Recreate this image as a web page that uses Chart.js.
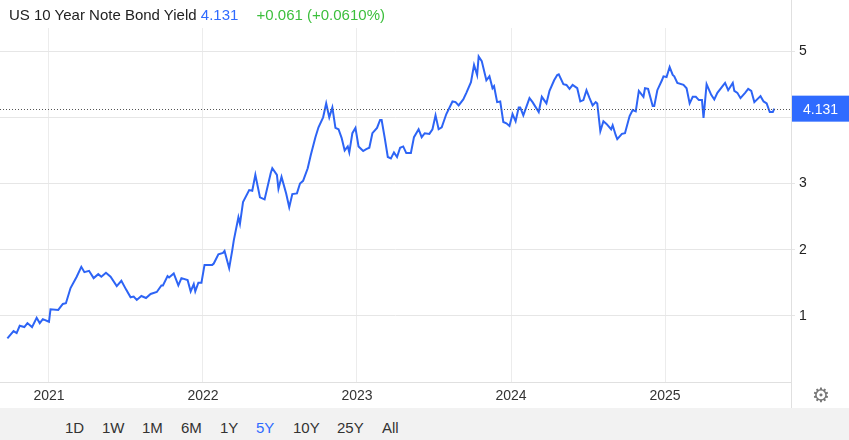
<!DOCTYPE html>
<html>
<head>
<meta charset="utf-8">
<script src="https://cdn.jsdelivr.net/npm/chart.js@4"></script>
<style>
  body { margin: 0; width: 849px; height: 440px; background: #fff; font-family: "Liberation Sans", Arial, sans-serif; overflow: hidden; position: relative; }
  #head { position: absolute; left: 9px; top: 6px; font-size: 15px; color: #222; }
  #head .last { color: #2f6bff; }
  #head .chg { color: #3cbf3c; margin-left: 14px; }
  #wrap { position: absolute; left: 0; top: 0; width: 849px; height: 408px; }
  #bar { position: absolute; left: 0; top: 408px; width: 849px; height: 32px; background: #f2f2f2; }
  #bar span { position: absolute; top: 11px; font-size: 15px; color: #333; }
  #gear { position: absolute; left: 812px; top: 383px; font-size: 20px; color: #777; }
</style>
</head>
<body>
<div id="wrap"><canvas id="c" width="849" height="408"></canvas></div>
<div id="head">US 10 Year Note Bond Yield <span class="last">4.131</span> <span class="chg">+0.061 (+0.0610%)</span></div>
<div id="gear">⚙</div>
<div id="bar"></div>
<script>
// fechas en años decimales y rendimientos
const dates = [2020.73,2020.77,2020.79,2020.81,2020.84,2020.86,2020.89,2020.92,2020.94,2020.96,2021.00,2021.01,2021.06,2021.09,2021.11,2021.14,2021.18,2021.21,2021.23,2021.26,2021.29,2021.32,2021.34,2021.37,2021.40,2021.44,2021.47,2021.50,2021.53,2021.55,2021.57,2021.60,2021.63,2021.66,2021.70,2021.73,2021.74,2021.77,2021.78,2021.81,2021.84,2021.86,2021.90,2021.92,2021.94,2021.95,2021.97,2021.99,2022.01,2022.06,2022.07,2022.10,2022.13,2022.14,2022.17,2022.19,2022.20,2022.23,2022.24,2022.26,2022.30,2022.32,2022.34,2022.37,2022.40,2022.44,2022.45,2022.48,2022.49,2022.51,2022.54,2022.56,2022.58,2022.61,2022.63,2022.65,2022.68,2022.70,2022.73,2022.75,2022.78,2022.80,2022.82,2022.84,2022.86,2022.88,2022.90,2022.92,2022.94,2022.95,2022.97,2022.99,2023.01,2023.04,2023.06,2023.08,2023.10,2023.13,2023.15,2023.16,2023.18,2023.20,2023.22,2023.24,2023.26,2023.28,2023.30,2023.32,2023.35,2023.37,2023.40,2023.42,2023.44,2023.47,2023.49,2023.51,2023.53,2023.55,2023.58,2023.62,2023.64,2023.66,2023.69,2023.71,2023.74,2023.76,2023.78,2023.79,2023.81,2023.84,2023.86,2023.88,2023.89,2023.91,2023.93,2023.95,2023.97,2023.99,2024.01,2024.03,2024.05,2024.06,2024.08,2024.12,2024.14,2024.18,2024.20,2024.23,2024.25,2024.28,2024.30,2024.31,2024.34,2024.36,2024.38,2024.40,2024.43,2024.45,2024.47,2024.49,2024.51,2024.53,2024.55,2024.56,2024.58,2024.60,2024.62,2024.65,2024.66,2024.68,2024.69,2024.72,2024.74,2024.77,2024.79,2024.81,2024.83,2024.86,2024.87,2024.89,2024.92,2024.93,2024.95,2024.98,2024.99,2025.01,2025.03,2025.05,2025.06,2025.08,2025.12,2025.14,2025.16,2025.18,2025.20,2025.22,2025.24,2025.25,2025.27,2025.30,2025.32,2025.34,2025.38,2025.39,2025.41,2025.44,2025.45,2025.47,2025.49,2025.52,2025.54,2025.56,2025.58,2025.62,2025.64,2025.66,2025.68,2025.70,2025.71];
const yields = [0.66,0.77,0.74,0.85,0.83,0.89,0.83,0.97,0.89,0.95,0.91,1.10,1.09,1.18,1.19,1.42,1.59,1.74,1.66,1.68,1.57,1.63,1.59,1.65,1.59,1.45,1.53,1.40,1.28,1.29,1.24,1.30,1.27,1.33,1.36,1.46,1.46,1.60,1.58,1.64,1.46,1.57,1.54,1.37,1.48,1.37,1.50,1.50,1.77,1.77,1.79,1.93,1.95,1.98,1.72,1.99,2.14,2.49,2.39,2.72,2.90,2.89,3.13,2.79,2.76,3.16,3.23,3.13,2.92,3.10,2.85,2.64,2.84,2.85,3.00,3.04,3.23,3.43,3.70,3.85,4.00,4.21,4.00,4.15,3.84,3.82,3.69,3.50,3.56,3.47,3.76,3.84,3.56,3.49,3.52,3.54,3.76,3.84,3.96,3.96,3.69,3.40,3.38,3.47,3.40,3.54,3.56,3.46,3.46,3.70,3.82,3.70,3.76,3.75,3.82,4.03,3.82,3.85,4.05,4.24,4.23,4.18,4.27,4.37,4.53,4.79,4.64,4.92,4.85,4.56,4.62,4.44,4.47,4.23,4.24,3.93,3.91,3.87,4.05,3.94,4.15,4.15,4.03,4.29,4.23,4.08,4.31,4.21,4.40,4.56,4.64,4.65,4.50,4.49,4.43,4.49,4.44,4.24,4.26,4.41,4.29,4.18,4.23,4.21,3.79,3.94,3.90,3.82,3.88,3.73,3.67,3.75,3.76,4.02,4.11,4.09,4.40,4.31,4.44,4.43,4.17,4.17,4.41,4.56,4.62,4.61,4.76,4.64,4.62,4.52,4.49,4.44,4.21,4.31,4.31,4.26,4.26,3.99,4.50,4.34,4.27,4.37,4.49,4.52,4.41,4.52,4.40,4.37,4.29,4.37,4.43,4.40,4.23,4.32,4.24,4.21,4.08,4.08,4.131];
const yearTicks = [2021, 2022, 2023, 2024, 2025];
const yieldTicks = [1, 2, 3, 4, 5];
const lastValue = 4.131;
const ranges = ['1D', '1W', '1M', '6M', '1Y', '5Y', '10Y', '25Y', 'All'];

const bar = document.getElementById('bar');
const rangeX = [65, 102, 142, 181, 220, 256, 293, 337, 382];
ranges.forEach((r, i) => {
    const s = document.createElement('span');
    s.textContent = r;
    s.style.left = rangeX[i] + 'px';
    if (r === '5Y') s.style.color = '#2f6bff';
    bar.appendChild(s);
});

const FONT = { family: '"Liberation Sans", Arial, sans-serif', size: 14 };

// línea punteada y etiqueta del último valor, y eje derecho
const lastPlugin = {
    id: 'last',
    afterDatasetsDraw(chart) {
        const { ctx, chartArea, scales } = chart;
        const y = scales.y.getPixelForValue(lastValue);
        ctx.save();
        ctx.strokeStyle = '#555';
        ctx.lineWidth = 1;
        ctx.setLineDash([1, 2]);
        ctx.beginPath();
        ctx.moveTo(chartArea.left, Math.round(y) + 0.5);
        ctx.lineTo(chartArea.right, Math.round(y) + 0.5);
        ctx.stroke();
        ctx.setLineDash([]);
        ctx.strokeStyle = '#e0e0e0';
        ctx.beginPath();
        ctx.moveTo(chartArea.right + 0.5, 0);
        ctx.lineTo(chartArea.right + 0.5, 408);
        ctx.stroke();
        ctx.fillStyle = '#2f6bff';
        ctx.fillRect(chartArea.right + 1, y - 13, 60, 26);
        ctx.fillStyle = '#fff';
        ctx.font = '14px "Liberation Sans", Arial, sans-serif';
        ctx.textBaseline = 'middle';
        ctx.fillText(lastValue.toFixed(3), chartArea.right + 12, y + 1);
        ctx.restore();
    }
};

new Chart(document.getElementById('c'), {
    type: 'line',
    data: {
        datasets: [{
            data: dates.map((d, i) => ({ x: d, y: yields[i] })),
            borderColor: '#2d64f5',
            borderWidth: 2,
            pointRadius: 0,
            tension: 0,
            fill: false
        }]
    },
    options: {
        responsive: false,
        animation: false,
        layout: { padding: { top: 28, left: 0, right: 0, bottom: 0 } },
        plugins: { legend: { display: false }, tooltip: { enabled: false } },
        scales: {
            x: {
                type: 'linear',
                min: 2020.682,
                max: 2025.818,
                afterBuildTicks: s => { s.ticks = yearTicks.map(v => ({ value: v })); },
                afterFit: s => { s.height = 26; },
                ticks: { color: '#333', font: FONT, padding: 6, maxRotation: 0, callback: v => String(v) },
                grid: { color: '#ececec', drawTicks: false },
                border: { color: '#e0e0e0' }
            },
            y: {
                position: 'right',
                min: 0,
                max: 5.35,
                afterBuildTicks: s => { s.ticks = yieldTicks.map(v => ({ value: v })); },
                afterFit: s => { s.width = 58; },
                ticks: { color: '#222', font: FONT, padding: 4, callback: v => String(v) },
                grid: { color: '#e6e6e6', tickLength: 4 },
                border: { display: false }
            }
        }
    },
    plugins: [lastPlugin]
});
</script>
</body>
</html>
